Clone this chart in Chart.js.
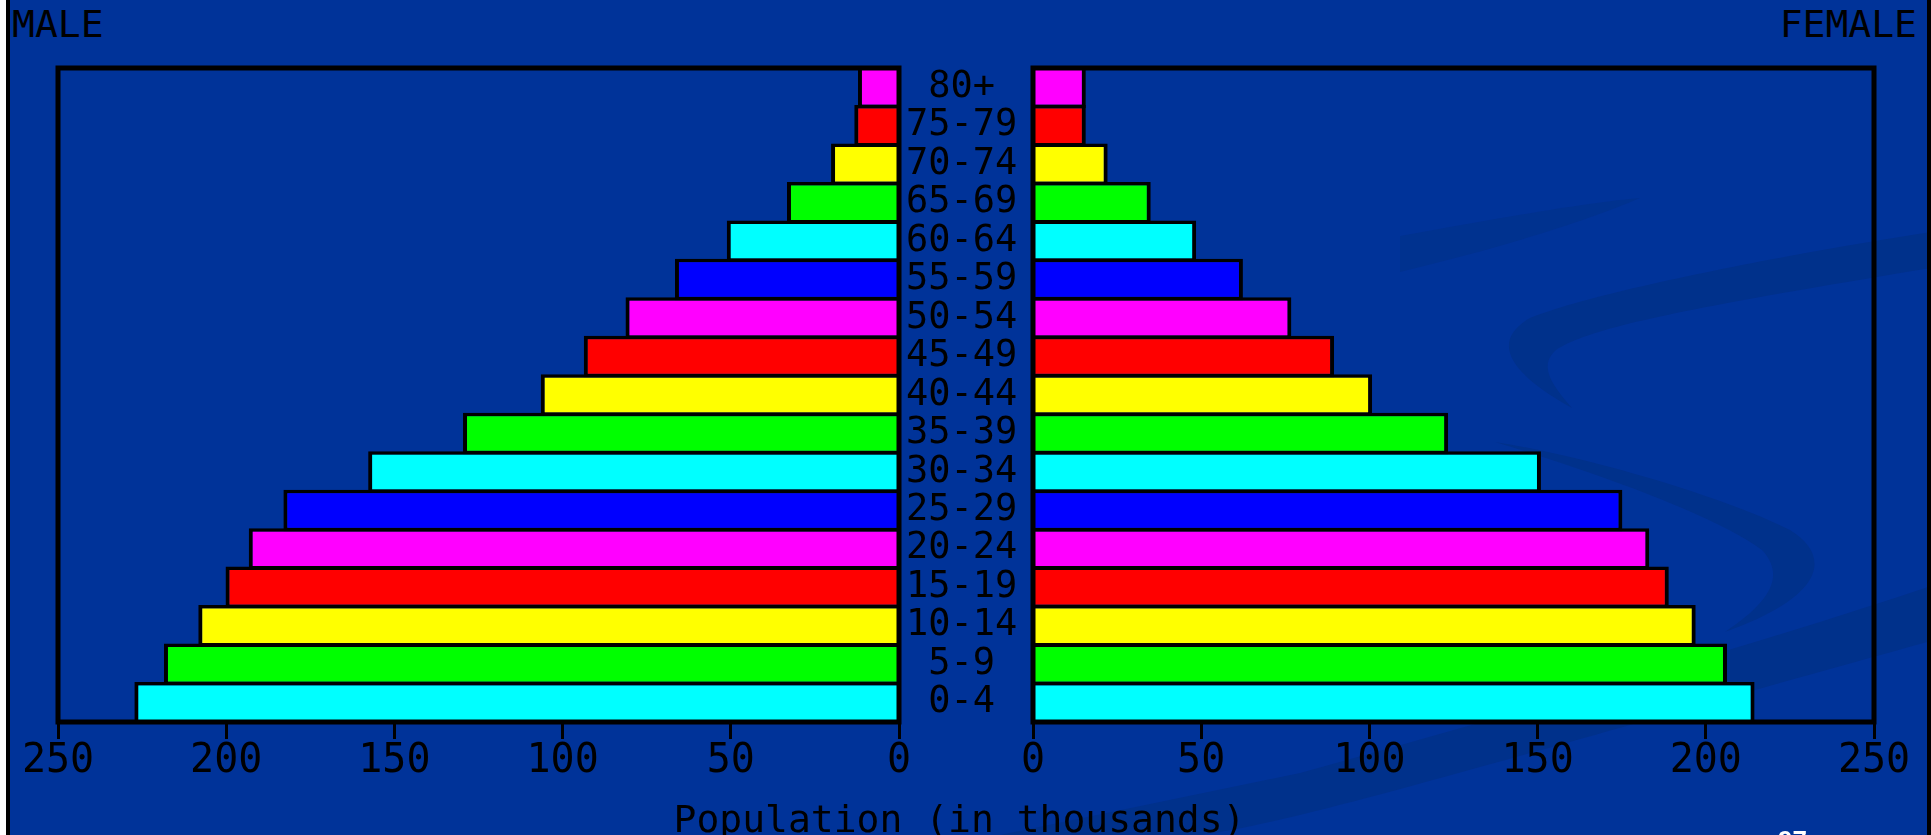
<!DOCTYPE html>
<html>
<head>
<meta charset="utf-8">
<script src="https://cdn.jsdelivr.net/npm/chart.js@4.4.1/dist/chart.umd.min.js"></script>
<style>
  html, body { margin: 0; padding: 0; }
  body {
    width: 1931px; height: 835px; overflow: hidden; position: relative;
    background: #003399; font-family: "DejaVu Sans Mono", monospace; color: #000;
  }
  #edgeWhite { position: absolute; left: 0; top: 0; width: 6px; height: 835px; background: #fff; }
  #edgeLeft { position: absolute; left: 6px; top: 0; width: 4px; height: 835px; background: #000; }
  #edgeRight { position: absolute; right: 0; top: 0; width: 4px; height: 835px; background: #000; }
  svg.swoosh { position: absolute; left: 0; top: 0; }
  .side { position: absolute; top: 5px; font-size: 38px; line-height: 38px; }
  #male { left: 12px; }
  #female { right: 14px; }
  #wrapL { position: absolute; left: 0; top: 0; }
  #wrapR { position: absolute; left: 980px; top: 0; }
  #xtitle { position: absolute; left: -6px; width: 1931px; text-align: center; top: 800px; font-size: 38px; line-height: 38px; }
  #slide { position: absolute; left: 1778px; top: 827px; color: #fff; font: bold 26px "Liberation Sans", sans-serif; line-height: 26px; }
</style>
</head>
<body>
<svg class="swoosh" width="1931" height="835">
  <path d="M1400,236 C1500,218 1590,202 1640,198 C1590,220 1500,248 1400,272 Z" fill="#00328f"/>
  <path d="M1931,232 C1800,252 1600,290 1530,318 C1495,338 1500,368 1572,408 C1552,385 1538,366 1556,350 C1592,326 1700,306 1931,268 Z" fill="#00318b"/>
  <path d="M1495,442 C1580,455 1720,495 1790,530 C1832,556 1826,596 1725,632 C1770,602 1786,576 1762,550 C1722,520 1620,480 1495,442 Z" fill="#00318b"/>
  <path d="M1931,586 C1800,630 1600,690 1300,773 L1000,835 L1200,835 C1300,822 1500,760 1931,641 Z" fill="#00318b"/>
</svg>
<div id="edgeWhite"></div>
<div id="edgeLeft"></div>
<div id="edgeRight"></div>
<div class="side" id="male">MALE</div>
<div class="side" id="female">FEMALE</div>
<div id="wrapL"><canvas id="left" width="1033" height="835"></canvas></div>
<div id="wrapR"><canvas id="right" width="951" height="835"></canvas></div>
<div id="xtitle">Population (in thousands)</div>
<div id="slide">97</div>
<script>
// age groups, youngest first
const ageGroups = ["0-4", "5-9", "10-14", "15-19", "20-24", "25-29", "30-34", "35-39",
  "40-44", "45-49", "50-54", "55-59", "60-64", "65-69", "70-74", "75-79", "80+"];
// population in thousands
const maleValues = [227.3, 218.5, 208.3, 200.2, 193.3, 183, 157.8, 129.6,
  106.5, 93.7, 81.3, 66.6, 51.2, 33.3, 20.2, 13.3, 12.2];
const femaleValues = [214.5, 206.3, 197, 189, 183.2, 175.2, 151, 123.4,
  100.8, 89.5, 76.8, 62.4, 48.5, 35, 22.2, 15.7, 15.7];
const rowColors = ["#00ffff", "#00ff00", "#ffff00", "#ff0000", "#ff00ff", "#0000ff",
  "#00ffff", "#00ff00", "#ffff00", "#ff0000", "#ff00ff", "#0000ff",
  "#00ffff", "#00ff00", "#ffff00", "#ff0000", "#ff00ff"];
const xMax = 250;
const xStep = 50;

const tickFont = { family: "DejaVu Sans Mono", size: 40 };

// black box round the plot area
const framePlugin = {
  id: "frame",
  afterDatasetsDraw(chart) {
    const a = chart.chartArea;
    const ctx = chart.ctx;
    ctx.save();
    ctx.strokeStyle = "#000";
    ctx.lineWidth = 5;
    ctx.strokeRect(a.left, a.top, a.right - a.left, a.bottom - a.top);
    ctx.restore();
  }
};

function makeSide(canvasId, values, isMale) {
  const ctx = document.getElementById(canvasId);
  return new Chart(ctx, {
    type: "bar",
    data: {
      labels: ageGroups,
      datasets: [{
        label: isMale ? "Male" : "Female",
        data: values,
        backgroundColor: rowColors,
        borderColor: "#000",
        borderWidth: { top: 3.5, bottom: 3.5, left: 4, right: 4 },
        // bars overlap a little so neighbours share one outline
        barPercentage: 1.078,
        categoryPercentage: 1
      }]
    },
    options: {
      indexAxis: "y",
      responsive: false,
      animation: false,
      layout: {
        padding: isMale
          ? { top: 68, left: 58, right: 0, bottom: 0 }
          : { top: 68, left: 53, right: 57, bottom: 0 }
      },
      plugins: {
        legend: { display: false },
        tooltip: { enabled: false }
      },
      scales: {
        x: {
          type: "linear",
          min: 0,
          max: xMax,
          reverse: isMale,
          afterFit: (scale) => { scale.height = 113; },
          ticks: {
            stepSize: xStep,
            color: "#000",
            font: tickFont,
            padding: -1,
            maxRotation: 0
          },
          grid: {
            drawOnChartArea: false,
            drawTicks: true,
            tickLength: 17,
            color: "#000",
            lineWidth: 3
          },
          border: { display: false }
        },
        y: {
          display: isMale,
          position: "right",
          reverse: true,
          afterFit: (scale) => { scale.width = isMale ? 134 : 0; },
          ticks: {
            color: "#000",
            font: { family: "DejaVu Sans Mono", size: 37 },
            crossAlign: "center",
            padding: 7,
            autoSkip: false
          },
          grid: { display: false, drawTicks: false },
          border: { display: false }
        }
      }
    },
    plugins: [framePlugin]
  });
}

makeSide("left", maleValues, true);
makeSide("right", femaleValues, false);
</script>
</body>
</html>
